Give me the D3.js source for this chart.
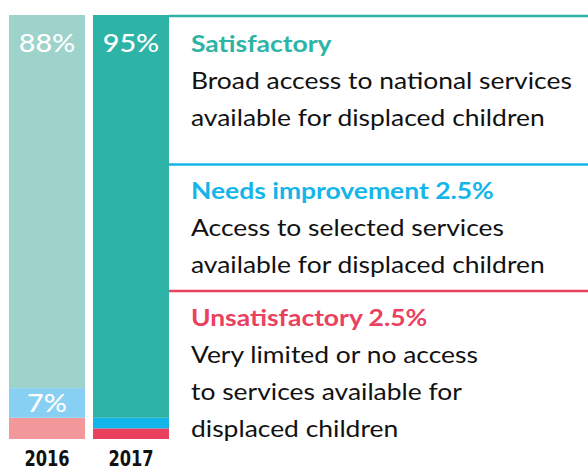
<!DOCTYPE html>
<html>
<head>
<meta charset="utf-8">
<script src="https://cdn.jsdelivr.net/npm/d3@7"></script>
<style>
  html, body { margin: 0; padding: 0; background: #fff; }
  svg { display: block; }
</style>
</head>
<body>
<div id="chart"></div>
<script>
// data
const years = ['2016', '2017'];
const categories = ['Satisfactory', 'Needs improvement', 'Unsatisfactory'];
const values2016 = [88, 7, 5];
const values2017 = [95, 2.5, 2.5];
const barLabels2016 = ['88%', '7%', ''];
const barLabels2017 = ['95%', '', ''];
const legendTitles = ['Satisfactory', 'Needs improvement 2.5%', 'Unsatisfactory 2.5%'];
const legendLines = [
  ['Broad access to national services', 'available for displaced children'],
  ['Access to selected services', 'available for displaced children'],
  ['Very limited or no access', 'to services available for', 'displaced children']
];

const width = 588;
const height = 468;
const colors2016 = ['#9dd3ca', '#87d0f4', '#f2989a'];
const colors2017 = ['#2eb4a6', '#13b5ea', '#ea3f5d'];
const titleColors = ['#2eb4a6', '#13b5ea', '#e9415f'];
const stretch = 1.15; // the source lettering is wider than plain Lato

const svg = d3.select('#chart')
  .append('svg')
  .attr('width', width)
  .attr('height', height);

const x = d3.scaleBand()
  .domain(years)
  .range([9, 169])
  .paddingInner(8 / 84)
  .paddingOuter(0);

const y = d3.scaleLinear()
  .domain([0, 100])
  .range([439, 15]);

// stack from the top: satisfactory on top, then needs improvement, then unsatisfactory
const rows = years.map((yr, i) => {
  const vals = i === 0 ? values2016 : values2017;
  const row = { year: yr };
  categories.forEach((c, j) => { row[c] = vals[j]; });
  return row;
});
const stack = d3.stack()
  .keys(categories.slice().reverse())(rows);

const barColors = { '2016': colors2016, '2017': colors2017 };
const barLabels = { '2016': barLabels2016, '2017': barLabels2017 };

stack.forEach(layer => {
  const ci = categories.indexOf(layer.key);
  svg.append('g')
    .selectAll('rect')
    .data(layer)
    .enter()
    .append('rect')
    .attr('x', d => x(d.data.year))
    .attr('y', d => y(d[1]))
    .attr('width', x.bandwidth())
    .attr('height', d => y(d[0]) - y(d[1]))
    .attr('fill', d => barColors[d.data.year][ci]);

  svg.append('g')
    .selectAll('text')
    .data(layer.filter(d => barLabels[d.data.year][ci]))
    .enter()
    .append('text')
    .attr('transform', d => {
      const cx = x(d.data.year) + x.bandwidth() / 2;
      const cy = ci === 0 ? y(d[1]) + 37 : (y(d[0]) + y(d[1])) / 2 + 9;
      return `translate(${cx},${cy}) scale(${stretch},1)`;
    })
    .attr('text-anchor', 'middle')
    .attr('fill', '#fff')
    .style('font-family', 'Lato, sans-serif')
    .style('font-size', '25px')
    .style('font-weight', 500)
    .text(d => barLabels[d.data.year][ci]);
});

// year labels
svg.append('g')
  .selectAll('text')
  .data(years)
  .enter()
  .append('text')
  .attr('transform', d => `translate(${x(d) + x.bandwidth() / 2},466) scale(0.86,1)`)
  .attr('text-anchor', 'middle')
  .attr('fill', '#111')
  .style('font-family', '"DejaVu Sans Condensed", "DejaVu Sans", sans-serif')
  .style('font-weight', 'bold')
  .style('font-size', '21px')
  .text(d => d);

// legend blocks on the right
const blockRules = [16, 164.5, 291];
const titleBase = [52, 199, 326];
const lineGap = 37;
const textX = 191;
const ruleX0 = x('2017') + x.bandwidth();

blockRules.forEach((ry, i) => {
  svg.append('line')
    .attr('x1', ruleX0)
    .attr('x2', width)
    .attr('y1', ry)
    .attr('y2', ry)
    .attr('stroke', titleColors[i])
    .attr('stroke-width', 2.5);

  svg.append('text')
    .attr('transform', `translate(${textX},${titleBase[i]}) scale(${stretch},1)`)
    .attr('fill', titleColors[i])
    .style('font-family', 'Lato, sans-serif')
    .style('font-weight', 'bold')
    .style('font-size', '23px')
    .text(legendTitles[i]);

  svg.append('g')
    .selectAll('text')
    .data(legendLines[i])
    .enter()
    .append('text')
    .attr('transform', (d, k) => `translate(${textX},${titleBase[i] + lineGap * (k + 1)}) scale(${stretch},1)`)
    .attr('fill', '#111')
    .style('font-family', 'Lato, sans-serif')
    .style('font-size', '23px')
    .text(d => d);
});
</script>
</body>
</html>
